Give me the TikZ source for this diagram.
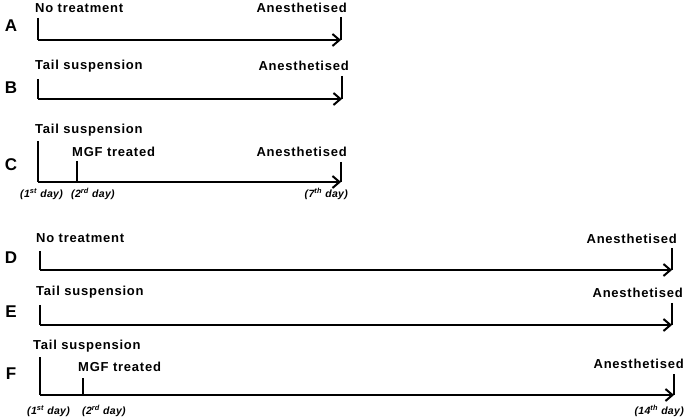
\documentclass[tikz,border=0pt]{standalone}
\usepackage{fontspec}
\setmainfont{Liberation Sans}
\usetikzlibrary{arrows.meta}
\begin{document}
\begin{tikzpicture}[x=1pt,y=-1pt,
  txt/.style={font=\fontsize{13}{15}\selectfont\bfseries\addfontfeature{LetterSpace=6}, inner sep=0pt},
  lab/.style={font=\fontsize{17}{19}\selectfont\bfseries, inner sep=0pt},
  day/.style={font=\fontsize{10.5}{12}\selectfont\bfseries\itshape\addfontfeature{LetterSpace=3}, inner sep=0pt},
  tick/.style={line width=2pt},
  axis/.style={line width=2pt, -{Straight Barb[length=7pt,width=12pt,line width=2pt]}}]
\useasboundingbox (0,0) rectangle (685,419);
% Labels
\node[lab] (la) at (11,26) {A};
\node[lab] (lb) at (11,88) {B};
\node[lab] (lc) at (11,165) {C};
\node[lab] (ld) at (11,258) {D};
\node[lab] (le) at (11,312) {E};
\node[lab] (lf) at (11,374) {F};
% A
\coordinate (a0t) at (38,18); \coordinate (a0) at (38,40);
\coordinate (a1t) at (341,17); \coordinate (a1) at (341,40);
\draw[tick] (a0t) -- (a0);
\draw[tick] (a1t) -- (a1);
\draw[axis] (a0) -- (a1);
\node[txt,anchor=west] (ta1) at (35,8) {No treatment};
\node[txt,anchor=east] (ta2) at (347,8) {Anesthetised};
% B
\coordinate (b0t) at (38,79); \coordinate (b0) at (38,99);
\coordinate (b1t) at (342,76); \coordinate (b1) at (342,99);
\draw[tick] (b0t) -- (b0);
\draw[tick] (b1t) -- (b1);
\draw[axis] (b0) -- (b1);
\node[txt,anchor=west] (tb1) at (35,66) {Tail suspension};
\node[txt,anchor=east] (tb2) at (349,66) {Anesthetised};
% C
\coordinate (c0t) at (38,141); \coordinate (c0) at (38,182);
\coordinate (cmt) at (77,161); \coordinate (cm) at (77,182);
\coordinate (c1t) at (341,162); \coordinate (c1) at (341,182);
\draw[tick] (c0t) -- (c0);
\draw[tick] (cmt) -- (cm);
\draw[tick] (c1t) -- (c1);
\draw[axis] (c0) -- (c1);
\node[txt,anchor=west] (tc1) at (35,130) {Tail suspension};
\node[txt,anchor=west] (tc2) at (72,152) {MGF treated};
\node[txt,anchor=east] (tc3) at (347,152) {Anesthetised};
\node[day,anchor=west] (dc1) at (20,194) {(1\textsuperscript{st} day)};
\node[day,anchor=west] (dc2) at (71,194) {(2\textsuperscript{rd} day)};
\node[day,anchor=east] (dc3) at (348,194) {(7\textsuperscript{th} day)};
% D
\coordinate (d0t) at (40,251); \coordinate (d0) at (40,270);
\coordinate (d1t) at (672,248); \coordinate (d1) at (672,270);
\draw[tick] (d0t) -- (d0);
\draw[tick] (d1t) -- (d1);
\draw[axis] (d0) -- (d1);
\node[txt,anchor=west] (td1) at (36,238) {No treatment};
\node[txt,anchor=east] (td2) at (677,239) {Anesthetised};
% E
\coordinate (e0t) at (40,305); \coordinate (e0) at (40,325);
\coordinate (e1t) at (672,303); \coordinate (e1) at (672,325);
\draw[tick] (e0t) -- (e0);
\draw[tick] (e1t) -- (e1);
\draw[axis] (e0) -- (e1);
\node[txt,anchor=west] (te1) at (36,292) {Tail suspension};
\node[txt,anchor=east] (te2) at (683,293) {Anesthetised};
% F
\coordinate (f0t) at (40,357); \coordinate (f0) at (40,395);
\coordinate (fmt) at (83,378); \coordinate (fm) at (83,395);
\coordinate (f1t) at (674,374); \coordinate (f1) at (674,395);
\draw[tick] (f0t) -- (f0);
\draw[tick] (fmt) -- (fm);
\draw[tick] (f1t) -- (f1);
\draw[axis] (f0) -- (f1);
\node[txt,anchor=west] (tf1) at (33,346) {Tail suspension};
\node[txt,anchor=west] (tf2) at (78,367) {MGF treated};
\node[txt,anchor=east] (tf3) at (684,364) {Anesthetised};
\node[day,anchor=west] (df1) at (27,411) {(1\textsuperscript{st} day)};
\node[day,anchor=west] (df2) at (82,411) {(2\textsuperscript{rd} day)};
\node[day,anchor=east] (df3) at (684,411) {(14\textsuperscript{th} day)};
\end{tikzpicture}
\end{document}
